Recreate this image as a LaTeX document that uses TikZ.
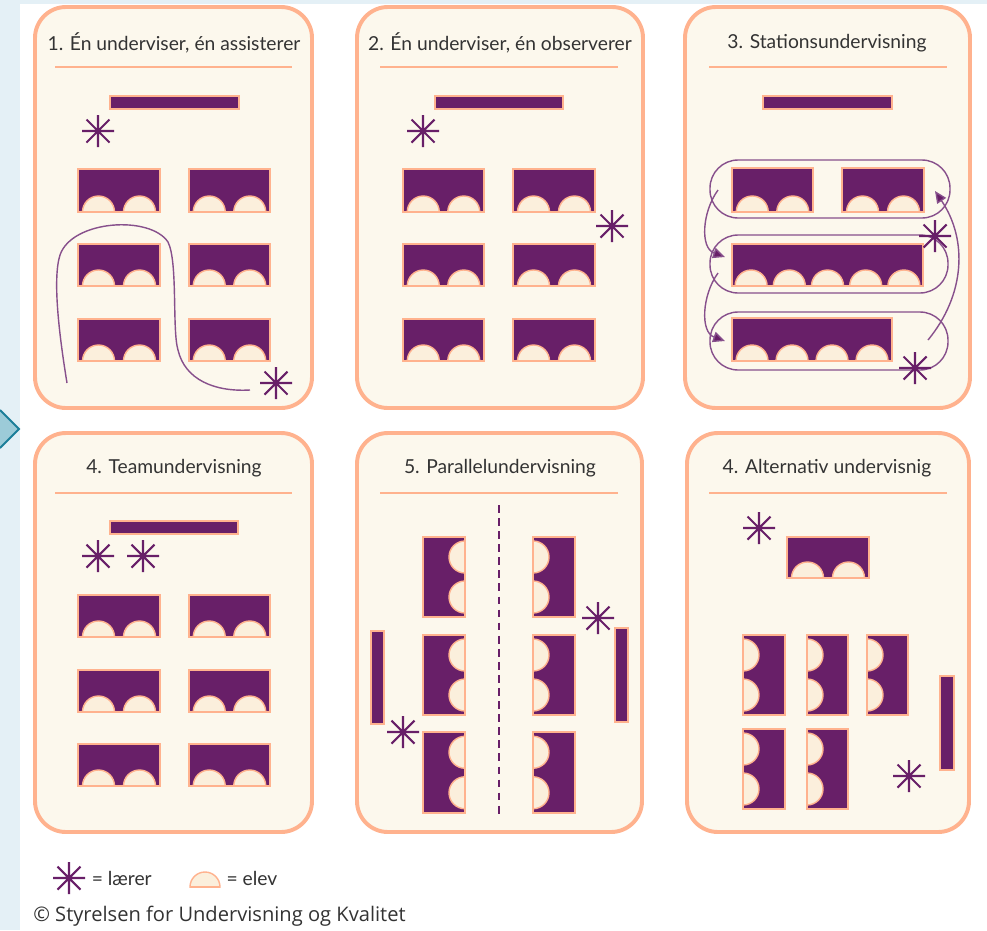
\documentclass[tikz,border=0pt]{standalone}
\usepackage{fontspec}
\setmainfont{Lato}
\newfontfamily\kildefont{Open Sans}
\usetikzlibrary{arrows.meta}
\usetikzlibrary{positioning}

\definecolor{lilla}{HTML}{681F68}
\definecolor{laks}{HTML}{FFB28E}
\definecolor{creme}{HTML}{FCF8ED}
\definecolor{elevfyld}{HTML}{FBEFDC}
\definecolor{gangfarve}{HTML}{87508C}
\definecolor{baggrund}{HTML}{E4F0F6}
\definecolor{pilfyld}{HTML}{9CCBD8}
\definecolor{pilkant}{HTML}{1B7E99}
\definecolor{tekst}{HTML}{333333}

\tikzset{
  panel/.style={draw=laks, line width=2.8pt, fill=creme, rounded corners=22pt},
  skille/.style={draw=laks, line width=1pt},
  titel/.style={text=tekst, inner sep=0pt, font=\fontsize{13.7}{16}\selectfont},
  bordkant/.style={draw=laks, line width=1pt},
  elev/.style={fill=elevfyld, draw=laks, line width=1pt},
  gang/.style={draw=gangfarve, line width=1pt},
  pilspids/.style={-{Triangle[length=8.5pt,width=7.5pt,fill=lilla]}},
  laerer/.pic={
    \draw[lilla, line width=1.5pt] (-16,0) -- (16,0) (0,-16) -- (0,16)
      (-11.5,-11.5) -- (11.5,11.5) (-11.5,11.5) -- (11.5,-11.5);
    \fill[lilla] (0,0) circle[radius=2.5];
  }
}

% kateder: x1 y1 x2 y2
\newcommand{\kateder}[4]{\filldraw[fill=lilla, bordkant] (#1,#2) rectangle (#3,#4);}
% elevbord with students along the bottom, left or right side: x1 y1 x2 y2 n
\newcommand{\elevbordB}[5]{%
  \fill[lilla] (#1,#2) rectangle (#3,#4);
  \begin{scope}
    \clip (#1,#2) rectangle (#3,#4);
    \foreach \k in {1,...,#5}
      \filldraw[elev] ({#1+(\k-0.5)*(#3-#1)/#5},#4) circle[radius=16];
  \end{scope}
  \draw[bordkant] (#1,#2) rectangle (#3,#4);}
\newcommand{\elevbordL}[5]{%
  \fill[lilla] (#1,#2) rectangle (#3,#4);
  \begin{scope}
    \clip (#1,#2) rectangle (#3,#4);
    \foreach \k in {1,...,#5}
      \filldraw[elev] (#1,{#2+(\k-0.5)*(#4-#2)/#5}) circle[radius=16];
  \end{scope}
  \draw[bordkant] (#1,#2) rectangle (#3,#4);}
\newcommand{\elevbordR}[5]{%
  \fill[lilla] (#1,#2) rectangle (#3,#4);
  \begin{scope}
    \clip (#1,#2) rectangle (#3,#4);
    \foreach \k in {1,...,#5}
      \filldraw[elev] (#3,{#2+(\k-0.5)*(#4-#2)/#5}) circle[radius=16];
  \end{scope}
  \draw[bordkant] (#1,#2) rectangle (#3,#4);}

\begin{document}
\begin{tikzpicture}[x=0.025cm, y=-0.025cm]

            %\draw [help lines] (0,0) grid (987,930);
            \useasboundingbox (0,0) rectangle (987,930);
            \fill[white] (0,0) rectangle (987,930);
            \fill[baggrund] (0,0) rectangle (20,930);
            \fill[baggrund] (0,0) rectangle (987,4);
            \filldraw[fill=pilfyld, draw=pilkant, line width=1.3pt] (0,410) -- (19,429) -- (0,448);

            % 1
            \draw[panel] (35,7) rectangle (312,408);
            \node (t1) [titel] at (174,43) {1. Én underviser, én assisterer};
            \draw[skille] (55,67) -- (292,67);
            \kateder{110}{96}{239}{109}
            \elevbordB{78}{169}{160}{212}{2}
            \elevbordB{189}{169}{270}{212}{2}
            \elevbordB{78}{244}{160}{286}{2}
            \elevbordB{189}{244}{270}{286}{2}
            \elevbordB{78}{319}{160}{361}{2}
            \elevbordB{189}{319}{270}{361}{2}
            \draw[gang] (67,383) .. controls (60,340) and (52,280) .. (60,255)
                        .. controls (72,220) and (150,215) .. (168,242)
                        .. controls (178,262) and (172,330) .. (178,350)
                        .. controls (185,380) and (215,392) .. (250,390);
            \pic at (98,131) {laerer};
            \pic at (276,383) {laerer};

            % 2
            \draw[panel] (357,7) rectangle (643,408);
            \node (t2) [titel] at (500,43) {2. Én underviser, én observerer};
            \draw[skille] (380,67) -- (618,67);
            \kateder{435}{96}{563}{109}
            \elevbordB{403}{169}{484}{212}{2}
            \elevbordB{513}{169}{595}{212}{2}
            \elevbordB{403}{244}{484}{286}{2}
            \elevbordB{513}{244}{595}{286}{2}
            \elevbordB{403}{319}{484}{361}{2}
            \elevbordB{513}{319}{595}{361}{2}
            \pic at (423,131) {laerer};
            \pic at (612,226) {laerer};

            % 3
            \draw[panel] (685,7) rectangle (970,408);
            \node (t3) [titel] at (827,43) {3. Stationsundervisning};
            \draw[skille] (709,67) -- (947,67);
            \kateder{763}{96}{892}{109}
            \elevbordB{732}{168}{813}{212}{2}
            \elevbordB{842}{168}{924}{212}{2}
            \elevbordB{732}{244}{923}{286}{5}
            \elevbordB{732}{318}{892}{361}{4}
            \draw[gang, rounded corners=20pt] (710,160) rectangle (950,218);
            \draw[gang, rounded corners=20pt] (710,235) rectangle (948,293);
            \draw[gang, rounded corners=20pt] (710,312) rectangle (948,370);
            \draw[gang, pilspids] (718,190) .. controls (702,212) and (700,248) .. (725,257);
            \draw[gang, pilspids] (718,273) .. controls (702,295) and (700,332) .. (725,341);
            \draw[gang, pilspids] (928,340) .. controls (965,295) and (968,240) .. (935,191);
            \pic at (935,236) {laerer};
            \pic at (915,368) {laerer};

            % 4
            \draw[panel] (35,433) rectangle (312,832);
            \node (t4) [titel] at (174,468) {4. Teamundervisning};
            \draw[skille] (55,493) -- (292,493);
            \kateder{110}{521}{238}{534}
            \elevbordB{78}{595}{160}{637}{2}
            \elevbordB{189}{595}{270}{637}{2}
            \elevbordB{78}{670}{160}{712}{2}
            \elevbordB{189}{670}{270}{712}{2}
            \elevbordB{78}{744}{160}{786}{2}
            \elevbordB{189}{744}{270}{786}{2}
            \pic at (98,556) {laerer};
            \pic at (143,556) {laerer};

            % 5
            \draw[panel] (357,433) rectangle (642,832);
            \node (t5) [titel] at (500,468) {5. Parallelundervisning};
            \draw[skille] (380,493) -- (618,493);
            \draw[lilla, line width=2pt, dash pattern=on 5.5pt off 3.8pt] (499,505) -- (499,818);
            \elevbordR{423}{537}{465}{617}{2}
            \elevbordR{423}{635}{465}{715}{2}
            \elevbordR{423}{732}{465}{813}{2}
            \elevbordL{533}{537}{575}{617}{2}
            \elevbordL{533}{635}{575}{715}{2}
            \elevbordL{533}{732}{575}{813}{2}
            \kateder{371}{631}{384}{724}
            \kateder{615}{628}{628}{722}
            \pic at (403,732) {laerer};
            \pic at (598,618) {laerer};

            % 6
            \draw[panel] (687,433) rectangle (969,832);
            \node (t6) [titel] at (827,468) {4. Alternativ undervisnig};
            \draw[skille] (709,493) -- (947,493);
            \elevbordB{787}{537}{869}{578}{2}
            \elevbordL{743}{635}{785}{715}{2}
            \elevbordL{807}{635}{848}{715}{2}
            \elevbordL{867}{635}{908}{715}{2}
            \elevbordL{743}{729}{785}{809}{2}
            \elevbordL{807}{729}{848}{809}{2}
            \kateder{940}{676}{954}{770}
            \pic at (759,528) {laerer};
            \pic at (909,776) {laerer};

            % legend
            \coordinate (lstjerne) at (69,878);
            \pic at (lstjerne) {laerer};
            \node (laerer) [titel, right=16pt of lstjerne] {= lærer};
            \begin{scope}
              \clip (187,860) rectangle (223,887);
              \filldraw[elev] (205,887) circle[radius=15];
            \end{scope}
            \draw[bordkant] (190,887) -- (220,887);
            \coordinate (lelev) at (222,878);
            \node (elev) [titel, right=3pt of lelev] {= elev};
            \node (kilde) [anchor=west, inner sep=0pt, text=tekst, font=\kildefont\fontsize{14.3}{17}\selectfont] at (33,916) {© Styrelsen for Undervisning og Kvalitet};

\end{tikzpicture}
\end{document}
